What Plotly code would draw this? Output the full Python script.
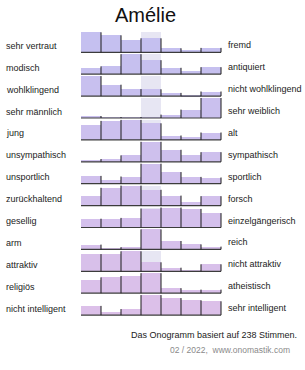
import plotly.graph_objects as go

# ---------------- data ----------------
title = "Amélie"
left_labels = ["sehr vertraut", "modisch", "wohlklingend", "sehr männlich", "jung",
               "unsympathisch", "unsportlich", "zurückhaltend", "gesellig", "arm",
               "attraktiv", "religiös", "nicht intelligent"]
right_labels = ["fremd", "antiquiert", "nicht wohlklingend", "sehr weiblich", "alt",
                "sympathisch", "sportlich", "forsch", "einzelgängerisch", "reich",
                "nicht attraktiv", "atheistisch", "sehr intelligent"]
steps = [1, 2, 3, 4, 5, 6, 7]
# relative bar heights per row (tallest bar of a row = 100)
scores = [
    [100, 85, 64, 70, 20, 11, 22],
    [32, 39, 100, 70, 32, 18, 35],
    [100, 57, 35, 34, 16, 4, 23],
    [10, 5, 5, 4, 17, 42, 100],
    [75, 95, 100, 83, 22, 13, 37],
    [9, 14, 32, 100, 60, 36, 48],
    [39, 19, 36, 100, 58, 34, 31],
    [47, 89, 100, 79, 50, 16, 47],
    [44, 44, 48, 95, 100, 93, 72],
    [24, 9, 11, 100, 42, 25, 14],
    [86, 86, 100, 45, 18, 9, 35],
    [68, 79, 86, 100, 25, 16, 18],
    [46, 14, 30, 100, 85, 74, 69],
]
votes_note = "Das Onogramm basiert auf 238 Stimmen."
source_note = "02 / 2022,  www.onomastik.com"

# ---------------- styles ----------------
row_colors = ["#c5c0f0", "#c6c0ef", "#c8c0ef", "#cac0ee", "#ccc0ee", "#cec0ed",
              "#d0c0ed", "#d2c0ec", "#d4c0ec", "#d6c0eb", "#d8c0ea", "#dac0ea",
              "#dcc0e9"]
highlight_color = "#e7e6f3"
FONT = "Liberation Sans, Arial, sans-serif"

W, H = 305, 370
ROW_PX = 21.9
TOP_BASE_PX = 52.3
BAR_PX = 20.0
X0_PX = 81.0
COL_PX = 20.0

unit = BAR_PX / ROW_PX
xr = [0.5 - X0_PX / COL_PX, 0.5 + (W - X0_PX) / COL_PX]
yr = [-(H - TOP_BASE_PX) / ROW_PX, TOP_BASE_PX / ROW_PX]

fig = go.Figure()

n = len(scores)
# middle highlight column
fig.add_trace(go.Bar(x=[4] * n, y=[unit] * n, base=[-i for i in range(n)],
                     width=1, marker=dict(color=highlight_color, line=dict(width=0)),
                     hoverinfo="skip"))

line_x, line_y, base_x, base_y = [], [], [], []
for i, row in enumerate(scores):
    h = [v / 100 * unit for v in row]
    fig.add_trace(go.Bar(x=steps, y=h, base=[-i] * len(steps), width=1,
                         marker=dict(color=row_colors[i], line=dict(width=0)),
                         hoverinfo="skip"))
    for k in range(len(steps)):
        top = h[k] if k == len(steps) - 1 else max(h[k], h[k + 1])
        line_x += [steps[k] + 0.5, steps[k] + 0.5, None]
        line_y += [-i, -i + top, None]
    base_x += [steps[0] - 0.5, steps[-1] + 0.5, None]
    base_y += [-i, -i, None]

fig.add_trace(go.Scatter(x=base_x, y=base_y, mode="lines",
                         line=dict(color="#3c3c3c", width=1.2), hoverinfo="skip"))
fig.add_trace(go.Scatter(x=line_x, y=line_y, mode="lines",
                         line=dict(color="#1a1a1a", width=1), hoverinfo="skip"))

ann = []
lab_off = 6.5 / ROW_PX
for i in range(n):
    ann.append(dict(x=4 / W, xref="paper", y=-i + lab_off, yref="y", text=left_labels[i],
                    xanchor="left", yanchor="middle", showarrow=False,
                    font=dict(family=FONT, size=9, color="#222")))
    ann.append(dict(x=226 / W, xref="paper", y=-i + lab_off + 0.5 / ROW_PX, yref="y",
                    text=right_labels[i], xanchor="left", yanchor="middle", showarrow=False,
                    font=dict(family=FONT, size=9, color="#222")))
ann.append(dict(x=145.5 / W, xref="paper", y=1 - 15 / H, yref="paper", text=title,
                xanchor="center", yanchor="middle", showarrow=False,
                font=dict(family=FONT, size=20, color="#111")))
ann.append(dict(x=299 / W, xref="paper", y=1 - 335 / H, yref="paper", text=votes_note,
                xanchor="right", yanchor="middle", showarrow=False,
                font=dict(family=FONT, size=9, color="#222")))
ann.append(dict(x=292 / W, xref="paper", y=1 - 350 / H, yref="paper", text=source_note,
                xanchor="right", yanchor="middle", showarrow=False,
                font=dict(family=FONT, size=8.5, color="#8a8a8a")))

fig.update_layout(
    width=W, height=H, margin=dict(l=0, r=0, t=0, b=0),
    paper_bgcolor="white", plot_bgcolor="white",
    barmode="overlay", bargap=0, showlegend=False,
    xaxis=dict(range=xr, visible=False, fixedrange=True),
    yaxis=dict(range=yr, visible=False, fixedrange=True),
    annotations=ann,
)

fig.write_html("out.html", config={"displayModeBar": False})
